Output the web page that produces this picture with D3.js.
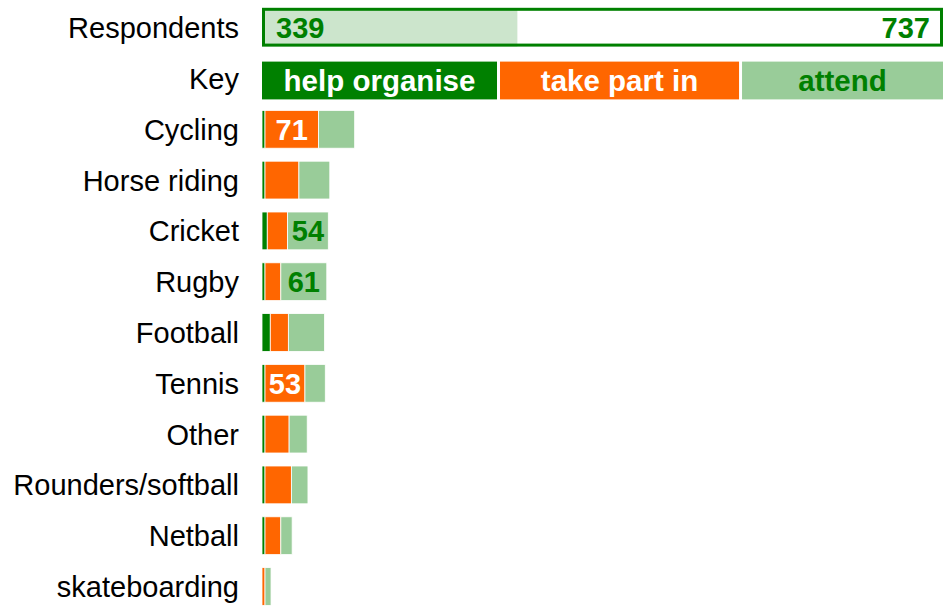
<!DOCTYPE html>
<html>
<head>
<meta charset="utf-8">
<script src="https://cdn.jsdelivr.net/npm/d3@7"></script>
<style>
  body { margin: 0; background: #fff; }
  text { font-family: "Liberation Sans", Arial, sans-serif; }
</style>
</head>
<body>
<div id="chart"></div>
<script>
// data
var sports = ["Cycling", "Horse riding", "Cricket", "Rugby", "Football", "Tennis",
              "Other", "Rounders/softball", "Netball", "skateboarding"];
var helpOrganise = [4, 4, 7, 4, 11, 4, 4, 4, 4, 0];
var takePartIn   = [71, 45, 27, 21, 24, 53, 32, 35, 21, 4];
var attend       = [48, 41, 54, 61, 48, 27, 24, 22, 15, 8];
var respondents  = [339, 737];
var keyLabels    = ["help organise", "take part in", "attend"];

const width = 949, height = 606;
const x0 = 262, x1 = 943;
const green = "#008000", orange = "#ff6600", light = "#99cc99", pale = "#cce5cc";
const colors = [green, orange, light];
const textColors = ["#fff", "#fff", green];

const svg = d3.select('#chart')
              .append("svg")
              .attr('width', width)
              .attr('height', height);

var rows = ["Respondents", "Key"].concat(sports);

var yScale = d3.scaleBand()
               .domain(rows)
               .range([2.3, 2.3 + 12 * 50.8])
               .paddingInner(0.256)
               .paddingOuter(0.128);

var xScale = d3.scaleLinear()
               .domain([0, 904])
               .range([x0, x1]);

// row labels
svg.selectAll(".rowLabel")
    .data(rows)
    .enter()
    .append("text")
    .attr("class", "rowLabel")
    .attr("x", 239)
    .attr("y", d => yScale(d) + yScale.bandwidth() / 2)
    .attr("dy", "0.36em")
    .attr("text-anchor", "end")
    .attr("font-size", 29)
    .attr("fill", "#000")
    .text(d => d);

// respondents bar
var ry = yScale("Respondents"), bw = yScale.bandwidth();
svg.append("rect")
    .attr("x", xScale(0))
    .attr("y", ry)
    .attr("width", xScale(respondents[0]) - xScale(0))
    .attr("height", bw)
    .attr("fill", pale);
svg.append("rect")
    .attr("x", x0 + 1.5)
    .attr("y", ry + 0.5)
    .attr("width", x1 - x0 - 3)
    .attr("height", bw - 2)
    .attr("fill", "none")
    .attr("stroke", green)
    .attr("stroke-width", 3);
svg.append("text")
    .attr("x", x0 + 14)
    .attr("y", ry + bw / 2)
    .attr("dy", "0.36em")
    .attr("font-size", 29)
    .attr("font-weight", "bold")
    .attr("fill", green)
    .text(respondents[0]);
svg.append("text")
    .attr("x", x1 - 13)
    .attr("y", ry + bw / 2)
    .attr("dy", "0.36em")
    .attr("text-anchor", "end")
    .attr("font-size", 29)
    .attr("font-weight", "bold")
    .attr("fill", green)
    .text(respondents[1]);

// key
var keyFrac = [0.3495, 0.3554, 0.2951];
var ky = yScale("Key") + 2;
var kx = x0;
keyLabels.forEach((k, i) => {
    var w = (x1 - x0) * keyFrac[i] - (i < 2 ? 3 : 0);
    svg.append("rect")
        .attr("x", kx)
        .attr("y", ky)
        .attr("width", w)
        .attr("height", bw)
        .attr("fill", colors[i]);
    svg.append("text")
        .attr("x", kx + w / 2)
        .attr("y", ky + bw / 2)
        .attr("dy", "0.36em")
        .attr("text-anchor", "middle")
        .attr("font-size", 29.5)
        .attr("font-weight", "bold")
        .attr("fill", textColors[i])
        .text(k);
    kx += w + 3;
});

// stacked bars
var table = sports.map((s, i) => ({ sport: s, vals: [helpOrganise[i], takePartIn[i], attend[i]] }));
var segs = [];
table.forEach(d => {
    var acc = 0;
    d.vals.forEach((v, j) => {
        segs.push({ sport: d.sport, j: j, v: v, start: acc });
        acc += v;
    });
});

var g = svg.append("g");
g.selectAll(".seg")
    .data(segs.filter(d => d.v > 0))
    .enter()
    .append("rect")
    .attr("class", "seg")
    .attr("x", d => xScale(d.start))
    .attr("y", d => yScale(d.sport))
    .attr("width", d => xScale(d.start + d.v) - xScale(d.start))
    .attr("height", bw)
    .attr("fill", d => colors[d.j])
    .attr("stroke", "#fff")
    .attr("stroke-width", 0.8);

g.selectAll(".segLabel")
    .data(segs.filter(d => d.v >= 50))
    .enter()
    .append("text")
    .attr("class", "segLabel")
    .attr("x", d => xScale(d.start + d.v / 2))
    .attr("y", d => yScale(d.sport) + bw / 2)
    .attr("dy", "0.36em")
    .attr("text-anchor", "middle")
    .attr("font-size", 29)
    .attr("font-weight", "bold")
    .attr("fill", d => textColors[d.j])
    .text(d => d.v);
</script>
</body>
</html>
